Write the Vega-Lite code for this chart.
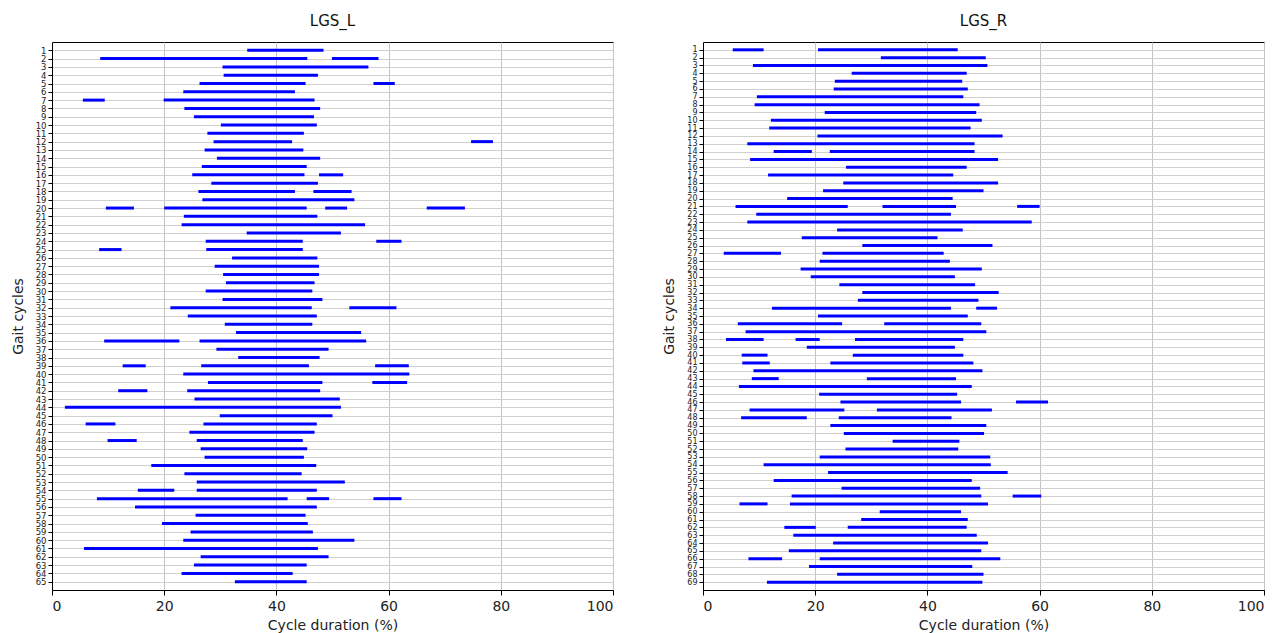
{
  "$schema": "https://vega.github.io/schema/vega-lite/v6.json",
  "background": "white",
  "padding": {"left": 10, "top": 13, "right": 10, "bottom": 5},
  "bounds": "flush",
  "spacing": 90,
  "config": {
    "font": "DejaVu Sans",
    "view": {"stroke": "black", "strokeWidth": 1},
    "axis": {
      "domainColor": "black",
      "tickColor": "black",
      "labelColor": "#222222",
      "titleColor": "#222222",
      "labelFont": "DejaVu Sans",
      "titleFont": "DejaVu Sans",
      "titleFontWeight": "normal",
      "gridColor": "#cccccc",
      "gridWidth": 1,
      "tickSize": 5
    },
    "title": {"font": "DejaVu Sans", "fontSize": 15, "fontWeight": "normal", "color": "#111111", "offset": 13}
  },
  "datasets": {
    "left": [
      {"c": 1, "s": 34.8, "e": 48.4},
      {"c": 2, "s": 8.6, "e": 45.5}, {"c": 2, "s": 49.9, "e": 58.2},
      {"c": 3, "s": 30.4, "e": 56.4},
      {"c": 4, "s": 30.6, "e": 47.4},
      {"c": 5, "s": 26.3, "e": 45.2}, {"c": 5, "s": 57.3, "e": 61.1},
      {"c": 6, "s": 23.4, "e": 43.3},
      {"c": 7, "s": 5.5, "e": 9.4}, {"c": 7, "s": 19.9, "e": 46.8},
      {"c": 8, "s": 23.6, "e": 47.8},
      {"c": 9, "s": 25.3, "e": 46.7},
      {"c": 10, "s": 30.1, "e": 47.2},
      {"c": 11, "s": 27.7, "e": 44.9},
      {"c": 12, "s": 28.8, "e": 42.8}, {"c": 12, "s": 74.7, "e": 78.6},
      {"c": 13, "s": 27.2, "e": 44.8},
      {"c": 14, "s": 29.4, "e": 47.8},
      {"c": 15, "s": 26.7, "e": 45.4},
      {"c": 16, "s": 25.0, "e": 45.0}, {"c": 16, "s": 47.6, "e": 51.9},
      {"c": 17, "s": 28.4, "e": 47.4},
      {"c": 18, "s": 26.1, "e": 43.3}, {"c": 18, "s": 46.6, "e": 53.4},
      {"c": 19, "s": 26.8, "e": 53.9},
      {"c": 20, "s": 9.6, "e": 14.6}, {"c": 20, "s": 20.0, "e": 45.4}, {"c": 20, "s": 48.7, "e": 52.6}, {"c": 20, "s": 66.8, "e": 73.6},
      {"c": 21, "s": 23.5, "e": 47.3},
      {"c": 22, "s": 23.1, "e": 55.8},
      {"c": 23, "s": 34.7, "e": 51.5},
      {"c": 24, "s": 27.4, "e": 44.7}, {"c": 24, "s": 57.8, "e": 62.3},
      {"c": 25, "s": 8.4, "e": 12.4}, {"c": 25, "s": 27.5, "e": 44.7},
      {"c": 26, "s": 32.1, "e": 47.3},
      {"c": 27, "s": 29.0, "e": 47.6},
      {"c": 28, "s": 30.5, "e": 47.6},
      {"c": 29, "s": 31.0, "e": 46.8},
      {"c": 30, "s": 27.4, "e": 46.4},
      {"c": 31, "s": 30.4, "e": 48.2},
      {"c": 32, "s": 21.1, "e": 46.3}, {"c": 32, "s": 53.0, "e": 61.4},
      {"c": 33, "s": 24.2, "e": 47.2},
      {"c": 34, "s": 30.8, "e": 46.4},
      {"c": 35, "s": 32.8, "e": 55.1},
      {"c": 36, "s": 9.3, "e": 22.7}, {"c": 36, "s": 26.3, "e": 56.0},
      {"c": 37, "s": 29.3, "e": 49.3},
      {"c": 38, "s": 33.2, "e": 47.7},
      {"c": 39, "s": 12.6, "e": 16.7}, {"c": 39, "s": 26.6, "e": 45.8}, {"c": 39, "s": 57.6, "e": 63.6},
      {"c": 40, "s": 23.4, "e": 63.7},
      {"c": 41, "s": 27.8, "e": 48.2}, {"c": 41, "s": 57.1, "e": 63.3},
      {"c": 42, "s": 11.8, "e": 17.0}, {"c": 42, "s": 24.1, "e": 47.8},
      {"c": 43, "s": 25.4, "e": 51.3},
      {"c": 44, "s": 2.3, "e": 51.5},
      {"c": 45, "s": 29.9, "e": 50.0},
      {"c": 46, "s": 6.0, "e": 11.3}, {"c": 46, "s": 27.0, "e": 47.2},
      {"c": 47, "s": 24.5, "e": 46.8},
      {"c": 48, "s": 9.9, "e": 15.1}, {"c": 48, "s": 25.8, "e": 44.7},
      {"c": 49, "s": 26.5, "e": 45.5},
      {"c": 50, "s": 27.2, "e": 44.9},
      {"c": 51, "s": 17.7, "e": 47.1},
      {"c": 52, "s": 23.6, "e": 44.5},
      {"c": 53, "s": 25.8, "e": 52.2},
      {"c": 54, "s": 15.3, "e": 21.8}, {"c": 54, "s": 25.8, "e": 47.2},
      {"c": 55, "s": 8.0, "e": 42.0}, {"c": 55, "s": 45.4, "e": 49.4}, {"c": 55, "s": 57.3, "e": 62.3},
      {"c": 56, "s": 14.8, "e": 47.2},
      {"c": 57, "s": 25.6, "e": 45.2},
      {"c": 58, "s": 19.6, "e": 45.6},
      {"c": 59, "s": 24.7, "e": 46.5},
      {"c": 60, "s": 23.4, "e": 53.9},
      {"c": 61, "s": 5.7, "e": 47.4},
      {"c": 62, "s": 26.5, "e": 49.3},
      {"c": 63, "s": 25.3, "e": 45.4},
      {"c": 64, "s": 23.1, "e": 42.9},
      {"c": 65, "s": 32.6, "e": 45.4}
    ],
    "right": [
      {"c": 1, "s": 5.3, "e": 10.8}, {"c": 1, "s": 20.5, "e": 45.4},
      {"c": 2, "s": 31.7, "e": 50.4},
      {"c": 3, "s": 8.9, "e": 50.7},
      {"c": 4, "s": 26.5, "e": 47.0},
      {"c": 5, "s": 23.5, "e": 46.2},
      {"c": 6, "s": 23.3, "e": 47.2},
      {"c": 7, "s": 9.6, "e": 46.4},
      {"c": 8, "s": 9.2, "e": 49.3},
      {"c": 9, "s": 21.7, "e": 48.7},
      {"c": 10, "s": 12.1, "e": 49.7},
      {"c": 11, "s": 11.8, "e": 47.7},
      {"c": 12, "s": 20.4, "e": 53.4},
      {"c": 13, "s": 7.9, "e": 48.4},
      {"c": 14, "s": 12.6, "e": 19.4}, {"c": 14, "s": 22.6, "e": 48.4},
      {"c": 15, "s": 8.4, "e": 52.6},
      {"c": 16, "s": 25.5, "e": 47.0},
      {"c": 17, "s": 11.6, "e": 44.6},
      {"c": 18, "s": 25.0, "e": 52.6},
      {"c": 19, "s": 21.4, "e": 50.0},
      {"c": 20, "s": 15.0, "e": 44.5},
      {"c": 21, "s": 5.8, "e": 25.8}, {"c": 21, "s": 32.0, "e": 45.1}, {"c": 21, "s": 56.0, "e": 60.0},
      {"c": 22, "s": 9.5, "e": 44.2},
      {"c": 23, "s": 7.9, "e": 58.6},
      {"c": 24, "s": 23.9, "e": 46.3},
      {"c": 25, "s": 17.6, "e": 41.8},
      {"c": 26, "s": 28.4, "e": 51.6},
      {"c": 27, "s": 3.7, "e": 13.9}, {"c": 27, "s": 21.3, "e": 42.9},
      {"c": 28, "s": 20.8, "e": 44.0},
      {"c": 29, "s": 17.4, "e": 49.7},
      {"c": 30, "s": 19.2, "e": 44.9},
      {"c": 31, "s": 24.3, "e": 48.5},
      {"c": 32, "s": 28.4, "e": 52.7},
      {"c": 33, "s": 27.6, "e": 49.1},
      {"c": 34, "s": 12.3, "e": 44.2}, {"c": 34, "s": 48.7, "e": 52.4},
      {"c": 35, "s": 20.5, "e": 47.2},
      {"c": 36, "s": 6.2, "e": 24.8}, {"c": 36, "s": 32.3, "e": 49.6},
      {"c": 37, "s": 7.6, "e": 50.5},
      {"c": 38, "s": 4.1, "e": 10.8}, {"c": 38, "s": 16.5, "e": 20.8}, {"c": 38, "s": 27.1, "e": 46.4},
      {"c": 39, "s": 18.5, "e": 44.9},
      {"c": 40, "s": 6.9, "e": 11.5}, {"c": 40, "s": 26.7, "e": 46.4},
      {"c": 41, "s": 7.0, "e": 11.9}, {"c": 41, "s": 22.7, "e": 48.2},
      {"c": 42, "s": 9.0, "e": 49.8},
      {"c": 43, "s": 8.7, "e": 13.5}, {"c": 43, "s": 29.2, "e": 45.1},
      {"c": 44, "s": 6.4, "e": 47.9},
      {"c": 45, "s": 20.7, "e": 45.3},
      {"c": 46, "s": 24.5, "e": 46.0}, {"c": 46, "s": 55.8, "e": 61.5},
      {"c": 47, "s": 8.3, "e": 25.2}, {"c": 47, "s": 31.0, "e": 51.5},
      {"c": 48, "s": 6.8, "e": 18.5}, {"c": 48, "s": 24.2, "e": 44.3},
      {"c": 49, "s": 22.7, "e": 50.5},
      {"c": 50, "s": 25.1, "e": 50.1},
      {"c": 51, "s": 33.8, "e": 45.7},
      {"c": 52, "s": 25.4, "e": 45.5},
      {"c": 53, "s": 20.8, "e": 51.2},
      {"c": 54, "s": 10.8, "e": 51.3},
      {"c": 55, "s": 22.3, "e": 54.3},
      {"c": 56, "s": 12.6, "e": 47.9},
      {"c": 57, "s": 24.7, "e": 49.4},
      {"c": 58, "s": 15.8, "e": 49.6}, {"c": 58, "s": 55.2, "e": 60.3},
      {"c": 59, "s": 6.5, "e": 11.5}, {"c": 59, "s": 15.5, "e": 50.8},
      {"c": 60, "s": 31.5, "e": 46.0},
      {"c": 61, "s": 28.2, "e": 47.2},
      {"c": 62, "s": 14.5, "e": 20.1}, {"c": 62, "s": 25.8, "e": 47.0},
      {"c": 63, "s": 16.1, "e": 48.8},
      {"c": 64, "s": 23.2, "e": 50.8},
      {"c": 65, "s": 15.3, "e": 49.6},
      {"c": 66, "s": 8.1, "e": 14.1}, {"c": 66, "s": 20.8, "e": 53.0},
      {"c": 67, "s": 18.9, "e": 48.0},
      {"c": 68, "s": 23.9, "e": 50.0},
      {"c": 69, "s": 11.4, "e": 49.8}
    ]
  },
  "hconcat": [
    {
      "title": "LGS_L",
      "width": 561,
      "height": 548,
      "data": {"name": "left"},
      "mark": {"type": "rule", "color": "#0000ff", "strokeWidth": 3, "strokeCap": "butt"},
      "encoding": {
        "x": {
          "field": "s", "type": "quantitative",
          "scale": {"domain": [0, 100], "nice": false, "zero": false},
          "axis": {"title": "Cycle duration (%)", "values": [0, 20, 40, 60, 80, 100], "labelFontSize": 14, "titleFontSize": 14, "titlePadding": 5, "labelPadding": 4, "gridColor": "#c4c4c4"}
        },
        "x2": {"field": "e"},
        "y": {
          "field": "c", "type": "quantitative",
          "scale": {"domain": [0, 66], "reverse": true, "nice": false, "zero": false},
          "axis": {"title": "Gait cycles", "values": [1,2,3,4,5,6,7,8,9,10,11,12,13,14,15,16,17,18,19,20,21,22,23,24,25,26,27,28,29,30,31,32,33,34,35,36,37,38,39,40,41,42,43,44,45,46,47,48,49,50,51,52,53,54,55,56,57,58,59,60,61,62,63,64,65], "labelFontSize": 8.5, "titleFontSize": 14, "tickSize": 4, "labelPadding": 2, "titlePadding": 10, "labelOverlap": false, "gridColor": "#d0d0d0"}
        }
      }
    },
    {
      "title": "LGS_R",
      "width": 561,
      "height": 548,
      "data": {"name": "right"},
      "mark": {"type": "rule", "color": "#0000ff", "strokeWidth": 3, "strokeCap": "butt"},
      "encoding": {
        "x": {
          "field": "s", "type": "quantitative",
          "scale": {"domain": [0, 100], "nice": false, "zero": false},
          "axis": {"title": "Cycle duration (%)", "values": [0, 20, 40, 60, 80, 100], "labelFontSize": 14, "titleFontSize": 14, "titlePadding": 5, "labelPadding": 4, "gridColor": "#c4c4c4"}
        },
        "x2": {"field": "e"},
        "y": {
          "field": "c", "type": "quantitative",
          "scale": {"domain": [0, 70], "reverse": true, "nice": false, "zero": false},
          "axis": {"title": "Gait cycles", "values": [1,2,3,4,5,6,7,8,9,10,11,12,13,14,15,16,17,18,19,20,21,22,23,24,25,26,27,28,29,30,31,32,33,34,35,36,37,38,39,40,41,42,43,44,45,46,47,48,49,50,51,52,53,54,55,56,57,58,59,60,61,62,63,64,65,66,67,68,69], "labelFontSize": 8, "titleFontSize": 14, "tickSize": 4, "labelPadding": 2, "titlePadding": 10, "labelOverlap": false, "gridColor": "#d0d0d0"}
        }
      }
    }
  ]
}
